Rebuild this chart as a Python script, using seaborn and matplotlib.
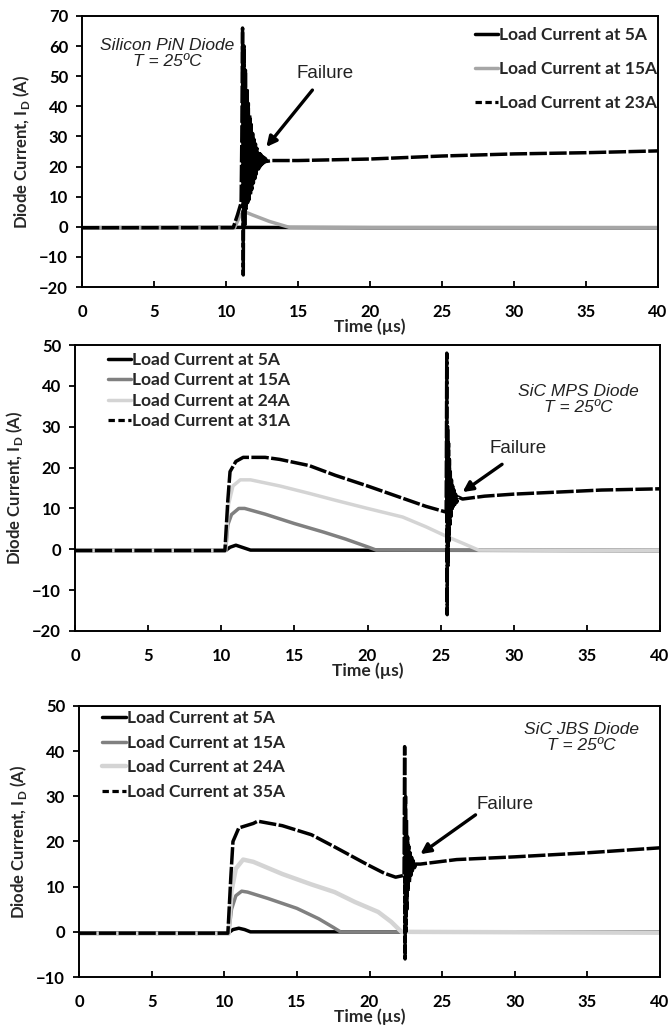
import matplotlib
matplotlib.use("Agg")
import matplotlib.pyplot as plt
from matplotlib.lines import Line2D
import seaborn as sns

# ---------------- Silicon PiN diode ----------------
pin_t_5a = [0, 10, 20, 30, 40]
pin_i_5a = [-0.3, -0.2, -0.3, -0.3, -0.3]

pin_t_15a = [0, 10.6, 11.0, 11.3, 11.8, 13.0, 14.4, 40]
pin_i_15a = [-0.3, -0.3, 4.0, 5.0, 4.0, 1.8, -0.2, -0.3]

pin_t_23a = [0, 10.5, 10.8, 11.05,
             11.10, 11.15, 11.20, 11.26, 11.30, 11.35, 11.40, 11.45, 11.50,
             11.55, 11.60, 11.65, 11.70, 11.75, 11.80, 11.85, 11.90, 11.95,
             12.00, 12.05, 12.10, 12.15, 12.20, 12.25, 12.30, 12.35, 12.40,
             12.45, 12.50, 12.55, 12.60, 12.65, 12.70, 12.75, 12.80,
             13.2, 15, 20, 25, 30, 35, 40]
pin_i_23a = [-0.3, -0.3, 4.0, 8.0,
             30, 66, -16, 60, 0, 52, 6, 46, 8,
             41, 9, 37, 10.5, 34, 12.5, 31, 14.5, 29,
             16, 27.5, 17.5, 26, 18.5, 25, 19.5, 24.3, 20.2,
             23.8, 20.8, 23.3, 21.2, 23.0, 21.5, 22.6, 21.7,
             22.0, 22.0, 22.5, 23.5, 24.2, 24.6, 25.2]

# ---------------- SiC MPS diode ----------------
mps_t_5a = [0, 10.3, 10.6, 11.0, 11.5, 12.0, 40]
mps_i_5a = [-0.3, -0.3, 0.5, 1.0, 0.4, -0.2, -0.3]

mps_t_15a = [0, 10.3, 10.45, 10.7, 11.2, 11.6, 13, 15, 17, 18.5, 20, 20.6, 40]
mps_i_15a = [-0.3, -0.3, 6, 8.5, 10, 10, 8.6, 6.3, 4.2, 2.5, 0.6, -0.2, -0.3]

mps_t_24a = [0, 10.3, 10.5, 10.8, 11.3, 12, 14, 16, 17.8, 20, 22.4, 24, 25.5,
             26.5, 27.6, 40]
mps_i_24a = [-0.3, -0.3, 11, 15.5, 17, 17, 15.5, 13.7, 12, 10, 7.9, 5.5, 3,
             1.5, -0.2, -0.3]

mps_t_31a = [0, 10.25, 10.45, 10.6, 11.0, 11.5, 13, 14, 16, 17.8, 20, 22, 24,
             25.38,
             25.42, 25.45, 25.48, 25.51, 25.54, 25.57, 25.60, 25.63, 25.66,
             25.70, 25.74, 25.78, 25.82, 25.87, 25.92, 25.97, 26.02, 26.10,
             26.2, 26.5, 28, 30, 33, 36, 40]
mps_i_31a = [-0.3, -0.3, 12, 19, 21.5, 22.5, 22.5, 22, 20.5, 18.1, 15.5, 13,
             10.5, 9.1,
             48, -16, 30, -4, 26, 2, 22, 6, 19,
             8, 17, 9.5, 15.5, 10.5, 14.5, 11, 13.5, 11.5,
             12.8, 12.3, 13, 13.5, 14, 14.5, 14.8]

# ---------------- SiC JBS diode ----------------
jbs_t_5a = [0, 10.3, 10.6, 11.0, 11.4, 11.8, 40]
jbs_i_5a = [-0.2, -0.2, 0.5, 0.8, 0.5, 0.0, 0.0]

jbs_t_15a = [0, 10.3, 10.5, 10.8, 11.2, 11.6, 13, 15, 16.5, 17.5, 18, 40]
jbs_i_15a = [-0.3, -0.3, 5, 8, 9, 8.8, 7.4, 5.2, 2.9, 1.0, 0.0, 0.0]

jbs_t_24a = [0, 10.3, 10.5, 10.8, 11.3, 12, 14, 16, 17.6, 19, 20.6, 21.5, 22.2, 40]
jbs_i_24a = [-0.4, -0.4, 9, 14, 16, 15.5, 12.8, 10.5, 8.8, 6.6, 4.4, 2.2, 0.0, -0.2]

jbs_t_35a = [0, 10.25, 10.45, 10.6, 11.0, 12.0, 12.3, 14, 16, 17.6, 19.9, 21.0,
             21.8, 22.38,
             22.42, 22.45, 22.48, 22.51, 22.54, 22.58, 22.62, 22.66, 22.70,
             22.75, 22.80, 22.85, 22.90, 22.95, 23.00, 23.10,
             23.2, 23.5, 26, 30, 35, 40]
jbs_i_35a = [-0.3, -0.3, 12, 20, 23, 24, 24.5, 23.5, 21.5, 18.8, 14.8, 13,
             12.1, 12.5,
             41, -6, 30, 0, 25, 5, 21, 9, 19,
             11, 17.5, 12.5, 16.5, 13.5, 15.8, 14.2,
             15, 15, 16, 16.6, 17.5, 18.6]

TICK_FONT = "Lato"
NOTE_FONT = "Liberation Sans"

sns.set_theme(style="white")
plt.rcParams["font.family"] = [TICK_FONT, "DejaVu Sans"]

W, H = 669, 1031
fig = plt.figure(figsize=(W / 100, H / 100), dpi=100)

TRACE_DASH = (0, (5.0, 0.7))
KEY_DASH = (0, (2.0, 1.1))


def make_axes(left, right, top, bottom):
    return fig.add_axes([left / W, 1 - bottom / H, (right - left) / W, (bottom - top) / H])


def trace(ax, t, i, color, dashed=False, lw=2.5):
    sns.lineplot(x=t, y=i, ax=ax, color=color, lw=lw, estimator=None, sort=False,
                 legend=False, linestyle=TRACE_DASH if dashed else "-")
    line = ax.get_lines()[-1]
    if dashed:
        # legend key keeps a clearly broken dash pattern
        return Line2D([], [], color=color, lw=2.3, linestyle=KEY_DASH)
    return line


def style_axes(ax, ymin, ymax):
    ax.set_xlim(0, 40)
    ax.set_ylim(ymin, ymax)
    ax.set_xticks(range(0, 41, 5))
    ax.set_yticks(range(ymin, ymax + 1, 10))
    for s in ax.spines.values():
        s.set_color("black")
        s.set_linewidth(1.4)
    ax.tick_params(axis="x", direction="in", length=4, width=1.3, pad=12,
                   labelsize=12, bottom=True, colors="black")
    ax.tick_params(axis="y", direction="out", length=4, width=1.3, pad=6,
                   labelsize=12, left=True, colors="black")
    for lab in ax.get_xticklabels() + ax.get_yticklabels():
        lab.set_fontweight("bold")
    ax.set_xlabel("Time (µs)", fontsize=12.5, fontweight="bold", labelpad=-1)
    ax.set_ylabel("Diode Current, I$_{\\mathregular{D}}$ (A)", fontsize=12,
                  fontweight="bold", labelpad=5)
    ax.set_facecolor("white")


def note(ax, x, y, lines):
    ax.text(x, y, lines, ha="center", va="center", style="italic",
            family=NOTE_FONT, fontsize=12.5, color="#222222", linespacing=1.1)


def failure(ax, txt_xy, tail, head):
    ax.text(*txt_xy, "Failure", ha="center", va="center", family=NOTE_FONT,
            fontsize=13.5, color="#222222")
    ax.annotate("", xy=head, xytext=tail,
                arrowprops=dict(arrowstyle="-|>", color="black", lw=2.4,
                                mutation_scale=15, shrinkA=0, shrinkB=0))


def legend(ax, handles, labels, anchor, spacing):
    ax.legend(handles, labels, loc="upper left", bbox_to_anchor=anchor,
              frameon=False, borderpad=0, borderaxespad=0, handlelength=1.35,
              handletextpad=0.05, labelspacing=spacing,
              prop=dict(family=TICK_FONT, weight="bold", size=12.5))


# Panel 1: Silicon PiN
ax1 = make_axes(82, 658, 16, 287)
h1 = trace(ax1, pin_t_5a, pin_i_5a, "black")
h2 = trace(ax1, pin_t_15a, pin_i_15a, "#a6a6a6")
h3 = trace(ax1, pin_t_23a, pin_i_23a, "black", dashed=True)
style_axes(ax1, -20, 70)
note(ax1, 5.9, 57.5, "Silicon PiN Diode\nT = 25ºC")
failure(ax1, (16.9, 50.8), (16.0, 45.4), (12.8, 26.5))
legend(ax1, [h1, h2, h3],
       ["Load Current at 5A", "Load Current at 15A", "Load Current at 23A"],
       (0.682, 0.96), 1.05)

# Panel 2: SiC MPS
ax2 = make_axes(75, 660, 345, 631)
g1 = trace(ax2, mps_t_5a, mps_i_5a, "black")
g2 = trace(ax2, mps_t_15a, mps_i_15a, "#808080")
g3 = trace(ax2, mps_t_24a, mps_i_24a, "#d4d4d4")
g4 = trace(ax2, mps_t_31a, mps_i_31a, "black", dashed=True)
style_axes(ax2, -20, 50)
note(ax2, 34.4, 36.6, "SiC MPS Diode\nT = 25ºC")
failure(ax2, (30.3, 24.7), (29.2, 20.8), (26.5, 14.0))
legend(ax2, [g1, g2, g3, g4],
       ["Load Current at 5A", "Load Current at 15A", "Load Current at 24A",
        "Load Current at 31A"],
       (0.056, 0.975), 0.25)

# Panel 3: SiC JBS
ax3 = make_axes(79, 660, 706, 977)
k1 = trace(ax3, jbs_t_5a, jbs_i_5a, "black")
k2 = trace(ax3, jbs_t_15a, jbs_i_15a, "#808080")
k3 = trace(ax3, jbs_t_24a, jbs_i_24a, "#d4d4d4", lw=3.2)
k4 = trace(ax3, jbs_t_35a, jbs_i_35a, "black", dashed=True)
style_axes(ax3, -10, 50)
note(ax3, 34.6, 43.1, "SiC JBS Diode\nT = 25ºC")
failure(ax3, (29.3, 28.1), (27.3, 25.9), (23.5, 17.2))
legend(ax3, [k1, k2, k3, k4],
       ["Load Current at 5A", "Load Current at 15A", "Load Current at 24A",
        "Load Current at 35A"],
       (0.04, 0.985), 0.5)

fig.savefig("out.png", dpi=100, facecolor="white")
